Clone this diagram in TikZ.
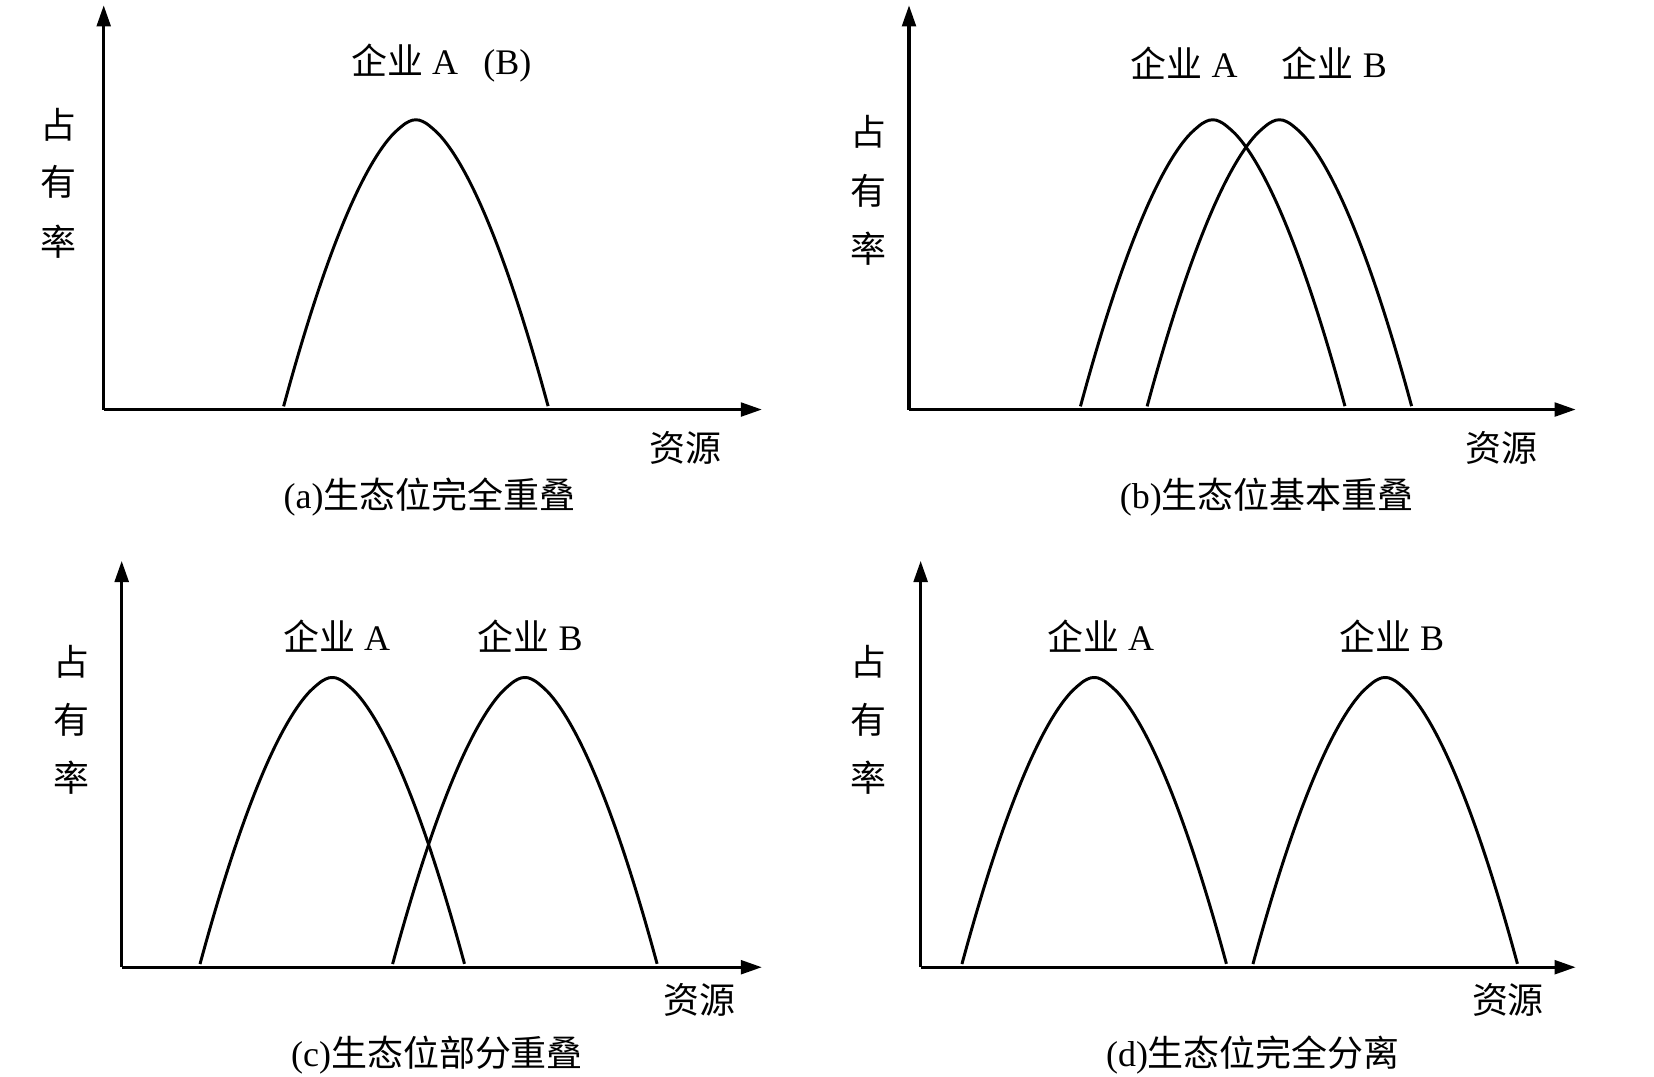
\documentclass[tikz,border=0pt]{standalone}
\usepackage{fontspec}
\setmainfont{Liberation Serif}
\newfontfamily\cjk{Noto Sans CJK SC}
\usetikzlibrary{arrows.meta}
\begin{document}
\begin{tikzpicture}[x=0.5pt,y=-0.5pt,
  axis/.style={line width=1.5pt,-{Triangle[length=10pt,width=6.5pt]}},
  humpline/.style={line width=1.4pt,line join=round},
  lab/.style={font=\fontsize{17}{19}\selectfont, inner sep=0pt},
  capt/.style={font=\fontsize{17}{20}\selectfont, inner sep=0pt},
  ylab/.style={font=\fontsize{17}{20}\selectfont\cjk, inner sep=0pt}]
\useasboundingbox (0,0) rectangle (1563,1017);
\newcommand{\myhump}[2]{\draw[humpline] plot[domain=-1:1,samples=40,smooth] ({#1+125*\x},{#2+271*abs(\x)^1.7});}

% ---------- panel (a)
\coordinate (ao) at (98,387);
\coordinate (ay) at (98,5);
\coordinate (ax) at (720,387);
\draw[axis] (ao) -- (ay);
\draw[axis] (ao) -- (ax);
\myhump{393}{113}
\node[lab] (alab) at (417,60) {{\cjk 企业} A\hspace{0.7em}(B)};
\node[ylab] (ay1) at (55,118) {占};
\node[ylab] (ay2) at (55,172) {有};
\node[ylab] (ay3) at (55,228) {率};
\node[ylab] (ares) at (648,423) {资源};
\node[capt] (acap) at (406,470) {(a){\cjk 生态位完全重叠}};

% ---------- panel (b)
\coordinate (bo) at (859,387);
\coordinate (by) at (859,5);
\coordinate (bx) at (1489,387);
\draw[axis] (bo) -- (by);
\draw[axis] (bo) -- (bx);
\myhump{1146}{113}
\myhump{1209}{113}
\node[lab] (blaba) at (1119,60) {{\cjk 企业} A};
\node[lab] (blabb) at (1261,60) {{\cjk 企业} B};
\node[ylab] (by1) at (821,125) {占};
\node[ylab] (by2) at (821,180) {有};
\node[ylab] (by3) at (821,235) {率};
\node[ylab] (bres) at (1419,423) {资源};
\node[capt] (bcap) at (1197,470) {(b){\cjk 生态位基本重叠}};

% ---------- panel (c)
\coordinate (co) at (115,914);
\coordinate (cy) at (115,530);
\coordinate (cx) at (720,914);
\draw[axis] (co) -- (cy);
\draw[axis] (co) -- (cx);
\myhump{314}{640}
\myhump{496}{640}
\node[lab] (claba) at (318,601) {{\cjk 企业} A};
\node[lab] (clabb) at (501,601) {{\cjk 企业} B};
\node[ylab] (cy1) at (68,625) {占};
\node[ylab] (cy2) at (68,680) {有};
\node[ylab] (cy3) at (68,735) {率};
\node[ylab] (cres) at (661,945) {资源};
\node[capt] (ccap) at (413,997) {(c){\cjk 生态位部分重叠}};

% ---------- panel (d)
\coordinate (do) at (870,914);
\coordinate (dy) at (870,530);
\coordinate (dx) at (1489,914);
\draw[axis] (do) -- (dy);
\draw[axis] (do) -- (dx);
\myhump{1034}{640}
\myhump{1309}{640}
\node[lab] (dlaba) at (1040,601) {{\cjk 企业} A};
\node[lab] (dlabb) at (1315,601) {{\cjk 企业} B};
\node[ylab] (dy1) at (821,625) {占};
\node[ylab] (dy2) at (821,680) {有};
\node[ylab] (dy3) at (821,735) {率};
\node[ylab] (dres) at (1425,945) {资源};
\node[capt] (dcap) at (1184,997) {(d){\cjk 生态位完全分离}};
\end{tikzpicture}
\end{document}
